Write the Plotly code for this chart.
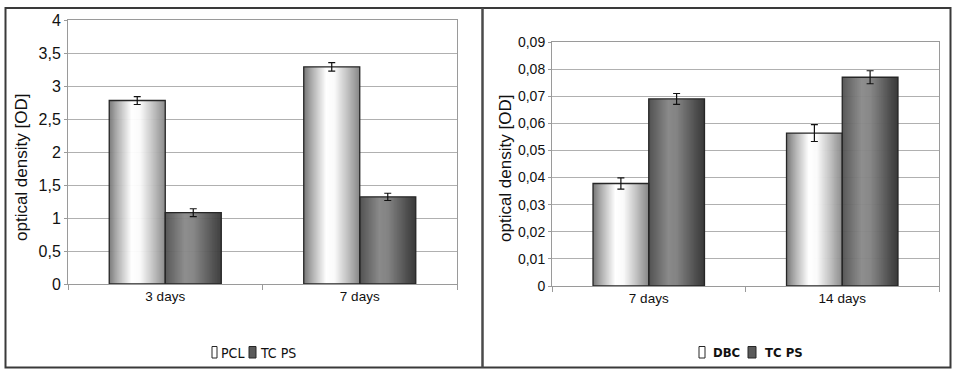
import plotly.graph_objects as go

W, H = 961, 379

# ---------------- data ----------------
left_categories = ["3 days", "7 days"]
pcl_values = [2.78, 3.29]
pcl_errors = [0.06, 0.065]
tcps_left_values = [1.08, 1.32]
tcps_left_errors = [0.06, 0.055]

right_categories = ["7 days", "14 days"]
dbc_values = [0.0378, 0.0564]
dbc_errors = [0.0021, 0.0031]
tcps_right_values = [0.069, 0.077]
tcps_right_errors = [0.002, 0.0024]

left_yticks = [0, 0.5, 1, 1.5, 2, 2.5, 3, 3.5, 4]
left_yticktext = ["0", "0,5", "1", "1,5", "2", "2,5", "3", "3,5", "4"]
right_yticks = [0, 0.01, 0.02, 0.03, 0.04, 0.05, 0.06, 0.07, 0.08, 0.09]
right_yticktext = ["0", "0,01", "0,02", "0,03", "0,04", "0,05", "0,06", "0,07", "0,08", "0,09"]

left_names = ["PCL", "TC PS"]
right_names = ["DBC", "TC PS"]
y_title = "optical density [OD]"

# ---------------- style ----------------
FONT_REG = "Liberation Sans, Arial, sans-serif"
FONT_COND = "DejaVu Sans Condensed, Liberation Sans Narrow, Arial Narrow, sans-serif"
LIGHT_STOPS = [(0, 118), (0.12, 165), (0.40, 255), (0.55, 250), (0.80, 188), (1, 135)]
DARK_STOPS = [(0, 82), (0.35, 138), (0.5, 132), (0.85, 78), (1, 58)]
LIGHT_SWATCH = "#ffffff"
DARK_SWATCH = "#5a5a5a"
EDGE = "#262626"
N_STRIPS = 56
BW = 0.288


def ramp(stops, t):
    for (t0, v0), (t1, v1) in zip(stops, stops[1:]):
        if t0 <= t <= t1:
            return v0 + (v1 - v0) * (t - t0) / (t1 - t0)
    return stops[-1][1]


def strip_trace(cats, vals, side, stops, xa, ya):
    xs, ys, offs, cols, wids = [], [], [], [], []
    base = -BW if side == 0 else 0.0
    step = BW / N_STRIPS
    for c, v in zip(cats, vals):
        for k in range(N_STRIPS):
            t = (k + 0.5) / N_STRIPS
            g = int(round(ramp(stops, t)))
            xs.append(c)
            ys.append(v)
            offs.append(base + k * step)
            wids.append(step * (1.6 if k < N_STRIPS - 1 else 1.0))
            cols.append(f"rgb({g},{g},{g})")
    return go.Bar(x=xs, y=ys, offset=offs, width=wids,
                  marker=dict(color=cols, line=dict(width=0)),
                  xaxis=xa, yaxis=ya, showlegend=False, hoverinfo="skip")


def outline_trace(cats, vals, errs, side, name, xa, ya):
    base = -BW if side == 0 else 0.0
    return go.Bar(x=cats, y=vals, offset=base, width=BW, name=name,
                  marker=dict(color="rgba(0,0,0,0)", line=dict(color=EDGE, width=1.3)),
                  error_y=dict(type="data", array=errs, color="#111111", thickness=1.2, width=3.5),
                  xaxis=xa, yaxis=ya, showlegend=False)


fig = go.Figure()
fig.add_trace(strip_trace(left_categories, pcl_values, 0, LIGHT_STOPS, "x", "y"))
fig.add_trace(strip_trace(left_categories, tcps_left_values, 1, DARK_STOPS, "x", "y"))
fig.add_trace(outline_trace(left_categories, pcl_values, pcl_errors, 0, left_names[0], "x", "y"))
fig.add_trace(outline_trace(left_categories, tcps_left_values, tcps_left_errors, 1, left_names[1], "x", "y"))

fig.add_trace(strip_trace(right_categories, dbc_values, 0, LIGHT_STOPS, "x2", "y2"))
fig.add_trace(strip_trace(right_categories, tcps_right_values, 1, DARK_STOPS, "x2", "y2"))
fig.add_trace(outline_trace(right_categories, dbc_values, dbc_errors, 0, right_names[0], "x2", "y2"))
fig.add_trace(outline_trace(right_categories, tcps_right_values, tcps_right_errors, 1, right_names[1], "x2", "y2"))

GRID = "#b0b0b0"
AXL = "#9a9a9a"


def xaxis_cfg(domain, anchor, cats):
    return dict(domain=domain, anchor=anchor, type="category", categoryorder="array",
                categoryarray=cats, range=[-0.5, len(cats) - 0.5], automargin=False,
                tickson="boundaries", ticks="outside", ticklen=5, tickcolor=AXL,
                showline=True, linecolor=AXL, linewidth=1, mirror=True,
                showgrid=False, zeroline=False,
                tickfont=dict(family=FONT_REG, size=13.5, color="#111"), fixedrange=True)


def yaxis_cfg(domain, anchor, rng, tv, tt, size):
    return dict(domain=domain, anchor=anchor, range=rng, tickvals=tv, ticktext=tt,
                automargin=False,
                showgrid=True, gridcolor=GRID, gridwidth=1,
                showline=True, linecolor=AXL, linewidth=1, mirror=True,
                ticks="outside", ticklen=3, tickcolor=AXL, zeroline=False,
                tickfont=dict(family=FONT_REG, size=size, color="#111"), fixedrange=True)


def px_x(p):
    return p / W


def px_y(p):
    return 1 - p / H


# compact legends (symbol + text), positioned in paper space
def legend_items(entries, bold, size):
    shapes, annos = [], []
    for (sx0, sx1, fill, tx, label) in entries:
        shapes.append(dict(type="rect", xref="paper", yref="paper",
                           x0=px_x(sx0), x1=px_x(sx1), y0=px_y(358), y1=px_y(346.5),
                           fillcolor=fill, line=dict(color=EDGE, width=1)))
        annos.append(dict(text=f"<b>{label}</b>" if bold else label, xref="paper", yref="paper",
                          x=px_x(tx), y=px_y(352.5), xanchor="left", yanchor="middle",
                          showarrow=False, borderpad=0,
                          font=dict(family=FONT_COND, size=size, color="#111")))
    return shapes, annos


lsh, lan = legend_items([(212, 217, LIGHT_SWATCH, 219.5, left_names[0]),
                         (249, 256, DARK_SWATCH, 258.5, left_names[1])], False, 14)
rsh, ran = legend_items([(699, 705, LIGHT_SWATCH, 712, right_names[0]),
                         (748, 756, DARK_SWATCH, 764, right_names[1])], True, 13)

fig.update_layout(
    width=W, height=H,
    margin=dict(l=0, r=0, t=0, b=0, pad=0, autoexpand=False),
    paper_bgcolor="white", plot_bgcolor="white",
    barmode="overlay",
    showlegend=False,
    xaxis=xaxis_cfg([68 / W, 457 / W], "y", left_categories),
    yaxis=yaxis_cfg([1 - 284 / H, 1 - 20 / H], "x", [0, 4], left_yticks, left_yticktext, 16),
    xaxis2=xaxis_cfg([552 / W, 939 / W], "y2", right_categories),
    yaxis2=yaxis_cfg([1 - 286 / H, 1 - 42 / H], "x2", [0, 0.09], right_yticks, right_yticktext, 14),
    annotations=[
        dict(text=y_title, xref="paper", yref="paper", x=px_x(21), y=px_y(168), textangle=-90,
             showarrow=False, font=dict(family=FONT_REG, size=17, color="#111"),
             xanchor="center", yanchor="middle"),
        dict(text=y_title, xref="paper", yref="paper", x=px_x(505), y=px_y(168), textangle=-90,
             showarrow=False, font=dict(family=FONT_REG, size=17, color="#111"),
             xanchor="center", yanchor="middle"),
    ] + lan + ran,
    shapes=[
        dict(type="rect", xref="paper", yref="paper", x0=px_x(5.5), x1=px_x(950.5),
             y0=px_y(367.5), y1=px_y(8), line=dict(color="#3a3a3a", width=2)),
        dict(type="line", xref="paper", yref="paper", x0=px_x(482.5), x1=px_x(482.5),
             y0=px_y(367.5), y1=px_y(8), line=dict(color="#4a4a4a", width=2.5)),
    ] + lsh + rsh,
)

fig.write_html(
    "out.html",
    config={"displayModeBar": False, "responsive": False, "staticPlot": True},
    post_script="document.body.style.margin='0';document.body.style.overflow='hidden';",
)
